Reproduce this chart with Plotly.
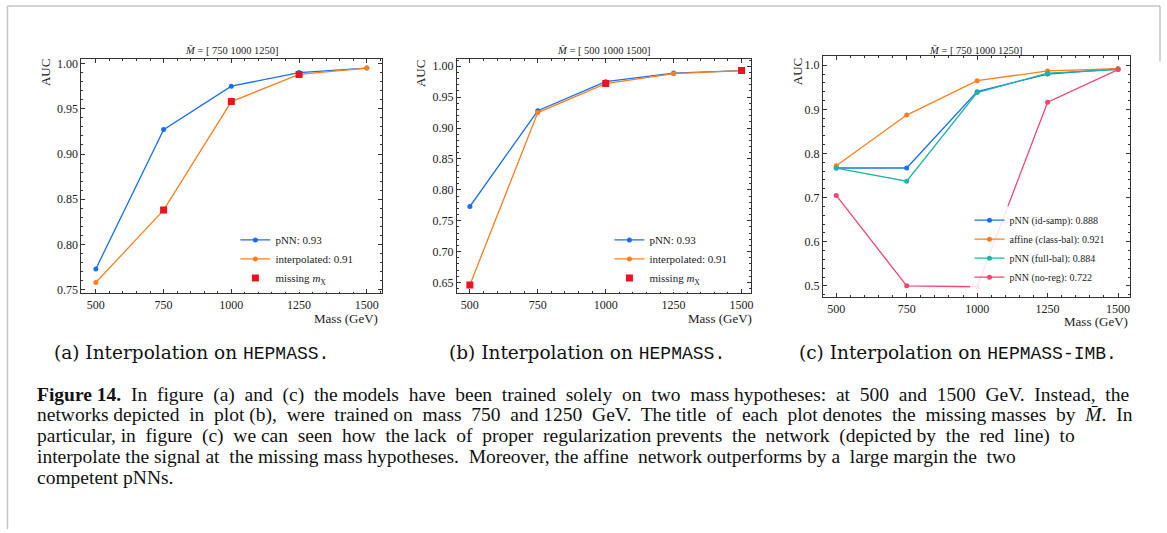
import plotly.graph_objects as go

W, H = 1167, 533
SERIF = "Liberation Serif"
MONO = "Liberation Mono"

# Mass hypotheses (GeV)
mass = [500, 750, 1000, 1250, 1500]

# (a) HEPMASS, trained on 500 and 1500 GeV
a_pnn = [0.773, 0.927, 0.975, 0.990, 0.995]
a_interp = [0.758, 0.838, 0.958, 0.988, 0.995]
a_missing = [750, 1000, 1250]

# (b) HEPMASS, trained on 750 and 1250 GeV
b_pnn = [0.773, 0.928, 0.975, 0.989, 0.993]
b_interp = [0.646, 0.925, 0.972, 0.988, 0.993]
b_missing = [500, 1000, 1500]

# (c) HEPMASS-IMB, trained on 500 and 1500 GeV
c_idsamp = [0.767, 0.767, 0.940, 0.980, 0.992]
c_affine = [0.772, 0.887, 0.965, 0.987, 0.992]
c_fullbal = [0.767, 0.737, 0.938, 0.982, 0.990]
c_noreg = [0.705, 0.500, 0.498, 0.916, 0.990]

BLUE = "#1a6ff0"
ORANGE = "#ff7f1e"
RED = "#ee1122"
TEAL = "#1fb5a5"
PINK = "#f5456e"
AXC = "#333333"


def px_x(p):
    return p / W


def px_y(p):
    return 1 - p / H


def line(y, name, color, ax, leg):
    return go.Scatter(
        x=mass, y=y, name=name, mode="lines+markers",
        line=dict(color=color, width=1.3),
        marker=dict(color=color, size=5),
        xaxis="x" + ax, yaxis="y" + ax, legend=leg,
    )


def missing(xs, ref, ax, leg):
    return go.Scatter(
        x=xs, y=[ref[mass.index(m)] for m in xs],
        name="missing <i>m</i><sub>X</sub>", mode="markers",
        marker=dict(color=RED, size=7, symbol="square"),
        xaxis="x" + ax, yaxis="y" + ax, legend=leg,
    )


fig = go.Figure()
fig.add_trace(line(a_pnn, "pNN: 0.93", BLUE, "", "legend"))
fig.add_trace(line(a_interp, "interpolated: 0.91", ORANGE, "", "legend"))
fig.add_trace(missing(a_missing, a_interp, "", "legend"))

fig.add_trace(line(b_pnn, "pNN: 0.93", BLUE, "2", "legend2"))
fig.add_trace(line(b_interp, "interpolated: 0.91", ORANGE, "2", "legend2"))
fig.add_trace(missing(b_missing, b_interp, "2", "legend2"))

fig.add_trace(line(c_idsamp, "pNN (id-samp): 0.888", BLUE, "3", "legend3"))
fig.add_trace(line(c_affine, "affine (class-bal): 0.921", ORANGE, "3", "legend3"))
fig.add_trace(line(c_fullbal, "pNN (full-bal): 0.884", TEAL, "3", "legend3"))
fig.add_trace(line(c_noreg, "pNN (no-reg): 0.722", PINK, "3", "legend3"))

panels = [
    dict(key="", x0=81.7, x1=382.7, y0=57.7, y1=294.3,
         xr=[447, 1555], yr=[0.7464, 1.005], dt=0.05, mdt=0.01, fmt=".2f",
         title="[ 750 1000 1250]", auc=(45, 71), mx=(381, 320)),
    dict(key="2", x0=458, x1=752.7, y0=57.7, y1=294.3,
         xr=[452, 1534], yr=[0.633, 1.0117], dt=0.05, mdt=0.01, fmt=".2f",
         title="[ 500 1000 1500]", auc=(421, 72), mx=(756, 320)),
    dict(key="3", x0=825, x1=1133, y0=55, y1=298,
         xr=[452.6, 1542.7], yr=[0.4755, 1.02], dt=0.1, mdt=0.02, fmt=".1f",
         title="[ 750 1000 1250]", auc=(799, 70), mx=(1133, 323)),
]

tickfont = dict(family=SERIF, size=12, color="#222222")
annotations = []
layout_axes = {}
for p in panels:
    k = p["key"]
    layout_axes["xaxis" + k] = dict(
        domain=[px_x(p["x0"]), px_x(p["x1"])], anchor="y" + k, range=p["xr"],
        tick0=500, dtick=250, ticks="inside", ticklen=4, tickwidth=0.8, tickcolor=AXC,
        showline=True, linecolor=AXC, linewidth=1, mirror="allticks",
        showgrid=False, zeroline=False, tickfont=tickfont, ticklabelstandoff=1,
        minor=dict(dtick=50, tick0=500, ticks="inside", ticklen=2, tickwidth=0.6,
                   tickcolor=AXC, showgrid=False),
    )
    layout_axes["yaxis" + k] = dict(
        domain=[px_y(p["y1"]), px_y(p["y0"])], anchor="x" + k, range=p["yr"],
        dtick=p["dt"], tick0=0, tickformat=p["fmt"], ticks="inside", ticklen=4,
        tickwidth=0.8, tickcolor=AXC, showline=True, linecolor=AXC, linewidth=1,
        mirror="allticks", showgrid=False, zeroline=False, tickfont=tickfont,
        minor=dict(dtick=p["mdt"], tick0=0, ticks="inside", ticklen=2, tickwidth=0.6,
                   tickcolor=AXC, showgrid=False),
    )
    annotations.append(dict(
        text="<i>M̄</i> = " + p["title"], x=px_x((p["x0"] + p["x1"]) / 2), y=px_y(49),
        xref="paper", yref="paper", showarrow=False, xanchor="center", yanchor="middle",
        font=dict(family=SERIF, size=10.5, color="#222222"),
    ))
    annotations.append(dict(
        text="AUC", x=px_x(p["auc"][0]), y=px_y(p["auc"][1]), textangle=-90,
        xref="paper", yref="paper", showarrow=False, xanchor="center", yanchor="middle",
        font=dict(family=SERIF, size=13, color="#222222"),
    ))
    annotations.append(dict(
        text="Mass (GeV)", x=px_x(p["mx"][0]), y=px_y(p["mx"][1]),
        xref="paper", yref="paper", showarrow=False, xanchor="right", yanchor="middle",
        font=dict(family=SERIF, size=13, color="#222222"),
    ))

# Sub-figure captions
subcaps = [
    ("(a)", "HEPMASS.", 192),
    ("(b)", "HEPMASS.", 589),
    ("(c)", "HEPMASS-IMB.", 960),
]
for lab, ds, cx in subcaps:
    annotations.append(dict(
        text=lab + " Interpolation on <span style='font-family:" + MONO
             + ";font-size:18px'>" + ds + "</span>",
        x=px_x(cx), y=px_y(355), xref="paper", yref="paper", showarrow=False,
        xanchor="center", yanchor="middle",
        font=dict(family="DejaVu Serif", size=18.5, color="#111111"),
    ))


def spread(text, extra):
    """Widen the word gaps of a caption line by `extra` non-breaking spaces."""
    words = text.split(" ")
    gaps = len(words) - 1
    out = words[0]
    for i, w in enumerate(words[1:]):
        n = (extra * (i + 1)) // gaps - (extra * i) // gaps
        out += "\u00a0" * n + " " + w
    return out


caption_lines = [
    ("<b>Figure 14.</b> In figure (a) and (c) the models have been trained solely on two mass hypotheses: at 500 and 1500 GeV. Instead, the", 20),
    ("networks depicted in plot (b), were trained on mass 750 and 1250 GeV. The title of each plot denotes the missing masses by <i>M̄</i>. In", 17),
    ("particular, in figure (c) we can seen how the lack of proper regularization prevents the network (depicted by the red line) to", 16),
    ("interpolate the signal at the missing mass hypotheses. Moreover, the affine network outperforms by a large margin the two", 5),
    ("competent pNNs.", 0),
]
for i, (txt, extra) in enumerate(caption_lines):
    annotations.append(dict(
        text=spread(txt, extra), x=px_x(35), y=px_y(397 + 21 * i), xref="paper", yref="paper",
        showarrow=False, xanchor="left", yanchor="middle", align="left",
        font=dict(family=SERIF, size=19.5, color="#111111"),
    ))

legend_style = dict(bgcolor="rgba(255,255,255,0.85)", borderwidth=0,
                    font=dict(family=SERIF, size=11, color="#222222"),
                    xanchor="left", yanchor="top", itemwidth=30)

border = dict(color="#c4c4c4", width=1.5)
shapes = [
    dict(type="line", xref="paper", yref="paper", x0=px_x(7.5), x1=px_x(7.5), y0=px_y(4), y1=0, line=border),
    dict(type="line", xref="paper", yref="paper", x0=px_x(7.5), x1=px_x(1163), y0=px_y(4), y1=px_y(4), line=border),
    dict(type="line", xref="paper", yref="paper", x0=px_x(1163), x1=px_x(1163), y0=px_y(4), y1=px_y(60), line=border),
]

fig.update_layout(
    width=W, height=H, margin=dict(l=0, r=0, t=0, b=0),
    paper_bgcolor="white", plot_bgcolor="white",
    annotations=annotations, shapes=shapes,
    legend=dict(legend_style, x=px_x(236), y=px_y(226)),
    legend2=dict(legend_style, x=px_x(611), y=px_y(226)),
    legend3=dict(legend_style, x=px_x(972), y=px_y(206),
                 font=dict(family=SERIF, size=10, color="#222222")),
    **layout_axes,
)

fig.write_html("out.html")
